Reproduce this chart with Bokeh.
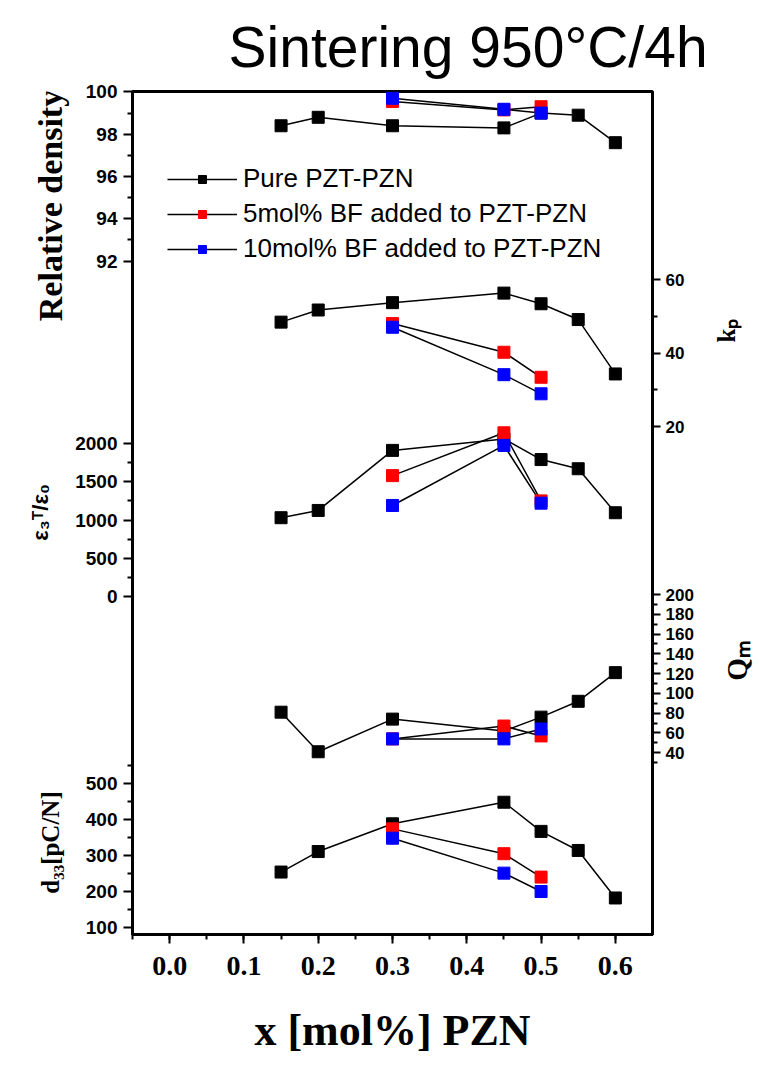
import math
from bokeh.plotting import figure
from bokeh.models import (Range1d, LinearAxis, FixedTicker, SingleIntervalTicker,
                          PrintfTickFormatter, Legend, LegendItem)
from bokeh.core.properties import value
from bokeh.layouts import row
from bokeh.embed import file_html
from bokeh.resources import INLINE

# ---------------- data ----------------
x_pure = [0.15, 0.2, 0.3, 0.45, 0.5, 0.55, 0.6]
x_bf = [0.3, 0.45, 0.5]

rd_pure = [98.4, 98.8, 98.4, 98.3, 99.0, 98.9, 97.6]
rd_bf5 = [99.55, 99.15, 99.3]
rd_bf10 = [99.7, 99.18, 99.0]

kp_pure = [48.4, 51.7, 53.7, 56.3, 53.4, 49.1, 34.3]
kp_bf5 = [48.0, 40.2, 33.4]
kp_bf10 = [47.0, 34.1, 28.9]

eps_pure = [1030, 1125, 1910, 2060, 1790, 1670, 1095]
eps_bf5 = [1580, 2140, 1250]
eps_bf10 = [1190, 1975, 1220]

qm_pure = [81, 41, 74, 62, 76, 92, 121]
qm_bf5 = [54, 67, 57]
qm_bf10 = [54, 54, 64]

d33_pure = [254, 311, 388, 448, 367, 314, 182]
d33_bf5 = [374, 305, 240]
d33_bf10 = [348, 251, 200]

# tick values of each sub-axis
rd_major = [92, 94, 96, 98, 100]
rd_minor = [93, 95, 97, 99]
eps_major = [0, 500, 1000, 1500, 2000]
eps_minor = [250, 750, 1250, 1750]
d33_major = [100, 200, 300, 400, 500]
d33_minor = [150, 250, 350, 450, 550]
kp_major = [20, 40, 60]
kp_minor = [30, 50]
qm_major = [40, 60, 80, 100, 120, 140, 160, 180, 200]
qm_minor = [30, 50, 70, 90, 110, 130, 150, 170, 190]

series_labels = ["Pure PZT-PZN", "5mol% BF added to PZT-PZN", "10mol% BF added to PZT-PZN"]
colors = ["black", "#ff0000", "#0000ff"]

SANS = "Liberation Sans"
SERIF = "Liberation Serif"

# ---------------- layout geometry (page pixels) ----------------
GL = 72            # left gutter width (axis titles)
FL, FT, FW, FH = 130, 91, 520, 843
BR, BB = 58, 126   # right / bottom borders of the main figure
TOTAL_H = FT + FH + BB
GR = 50            # right gutter width
XMIN, XMAX = -0.05, 0.65

# each sub-panel scale spans the whole frame height: (value at top, value at bottom)
panel_ranges = {
    "rd": (100.02, 100.02 - FH / 21.15),
    "kp": (60 + 188 / 3.675, 60 + 188 / 3.675 - FH / 3.675),
    "eps": (505 / 0.0765, 505 / 0.0765 - FH / 0.0765),
    "qm": (200 + 503 / 0.989, 200 + 503 / 0.989 - FH / 0.989),
    "d33": (500 + 692 / 0.36, 500 + 692 / 0.36 - FH / 0.36),
}

p = figure(frame_width=FW, frame_height=FH, x_range=Range1d(XMIN, XMAX), y_range=Range1d(0, 1),
           output_backend="svg", toolbar_location=None,
           x_axis_location=None, y_axis_location=None,
           min_border_left=FL - GL, min_border_right=BR, min_border_top=FT, min_border_bottom=BB,
           outline_line_color="black", outline_line_width=3,
           background_fill_color="white", border_fill_color="white")
p.xgrid.visible = False
p.ygrid.visible = False

for name, (top, bot) in panel_ranges.items():
    p.extra_y_ranges[name] = Range1d(bot, top)


def pos(name, v):
    top, bot = panel_ranges[name]
    return (v - bot) / (top - bot)


def style_axis(ax, size="19px", font=SANS):
    ax.axis_line_width = 3
    ax.axis_line_color = "black"
    ax.major_tick_line_width = 2
    ax.minor_tick_line_width = 2
    ax.major_tick_out = 9
    ax.major_tick_in = 0
    ax.minor_tick_out = 5
    ax.minor_tick_in = 0
    ax.major_label_text_font = font
    ax.major_label_text_font_style = "bold"
    ax.major_label_text_font_size = size
    ax.major_label_text_color = "black"
    ax.major_label_standoff = 5
    return ax


def build_axis(groups, size):
    majors, minors, overrides = [], [], {}
    for name, maj, mnr in groups:
        for v in maj:
            t = pos(name, v)
            majors.append(t)
            overrides[t] = str(v)
        minors += [pos(name, v) for v in mnr]
    ax = LinearAxis(ticker=FixedTicker(ticks=majors, minor_ticks=minors),
                    major_label_overrides=overrides)
    style_axis(ax, size)
    return ax


left = build_axis([("rd", rd_major, rd_minor), ("eps", eps_major, eps_minor),
                   ("d33", d33_major, d33_minor)], "19px")
left.major_label_standoff = 6
p.add_layout(left, "left")
right = build_axis([("kp", kp_major, kp_minor), ("qm", qm_major, qm_minor)], "17px")
right.major_tick_out = 8
p.add_layout(right, "right")

xax = style_axis(LinearAxis(ticker=SingleIntervalTicker(interval=0.1, num_minor_ticks=2),
                            formatter=PrintfTickFormatter(format="%.1f")),
                 size="28px", font=SERIF)
xax.major_label_standoff = 13
xax.axis_label = "x [mol%] PZN"
xax.axis_label_text_font = SERIF
xax.axis_label_text_font_style = "bold"
xax.axis_label_text_font_size = "44px"
xax.axis_label_text_color = "black"
xax.axis_label_standoff = 28
p.add_layout(xax, "below")

p.title.text = "Sintering 950°C/4h"
p.title.text_font = SANS
p.title.text_font_style = "normal"
p.title.text_font_size = "57px"
p.title.text_color = "black"
p.title.align = "left"
p.title.offset = 96
p.title.standoff = 25

# ---------------- data ----------------
legend_renderers = None
for name, ys in [("rd", [rd_pure, rd_bf5, rd_bf10]), ("kp", [kp_pure, kp_bf5, kp_bf10]),
                 ("eps", [eps_pure, eps_bf5, eps_bf10]), ("qm", [qm_pure, qm_bf5, qm_bf10]),
                 ("d33", [d33_pure, d33_bf5, d33_bf10])]:
    xs = [x_pure, x_bf, x_bf]
    lines = [p.line(x, y, line_color="black", line_width=1.5, y_range_name=name)
             for x, y in zip(xs, ys)]
    marks = [p.scatter(x, y, marker="square", size=12, fill_color=c, line_color=c,
                       y_range_name=name) for x, y, c in zip(xs, ys, colors)]
    if legend_renderers is None:
        legend_renderers = list(zip(lines, marks))

legend = Legend(items=[LegendItem(label=lab, renderers=[l, m])
                       for lab, (l, m) in zip(series_labels, legend_renderers)],
                location=(35, 670), glyph_width=70, glyph_height=20, label_height=20,
                label_standoff=6, spacing=4, padding=0, margin=0,
                border_line_color=None, background_fill_alpha=0,
                label_text_font=SANS, label_text_font_size="26px", label_text_color="black")
p.add_layout(legend)


# ---------------- axis titles in side gutters (page-pixel coordinates) ----------------
# the row aligns the gutters' frames with the main frame, so they start at the frame top
def gutter(x0, w):
    g = figure(frame_width=w, frame_height=TOTAL_H - FT, x_range=Range1d(x0, x0 + w),
               y_range=Range1d(-TOTAL_H, -FT), output_backend="svg", toolbar_location=None,
               x_axis_location=None, y_axis_location=None,
               min_border_left=0, min_border_right=0, min_border_top=0, min_border_bottom=0,
               outline_line_color=None, background_fill_color="white",
               border_fill_color="white")
    g.xgrid.visible = False
    g.ygrid.visible = False
    return g


def add_title(g, text, cx, cy, font, size):
    g.text(x=[cx], y=[-cy], text=[text], angle=math.pi / 2,
           text_align="center", text_baseline="middle", text_font=value(font),
           text_font_style="bold", text_font_size=value(size), text_color="black")


gl = gutter(0, GL)
add_title(gl, "Relative density", 50, 205, SERIF, "34px")
add_title(gl, "ε₃ᵀ/ε₀", 40, 512, SANS, "22px")
add_title(gl, "d₃₃[pC/N]", 50, 842, SERIF, "25px")

gr_x0 = FL + FW + BR
gr = gutter(gr_x0, GR)
add_title(gr, "kₚ", 724, 330, SERIF, "25px")
add_title(gr, "Qₘ", 734, 660, SERIF, "29px")

layout = row(gl, p, gr, spacing=0)
open("out.html", "w").write(file_html(layout, INLINE))
